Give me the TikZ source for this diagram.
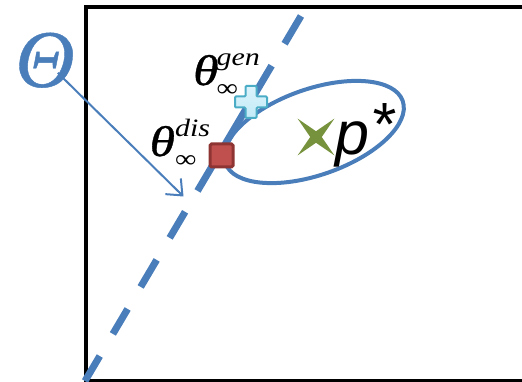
\documentclass[tikz,border=0pt]{standalone}
\usepackage{fontspec}
\setmainfont{Liberation Serif}
\newfontfamily\lblfont[FakeStretch=1.2]{Liberation Serif}
\newfontfamily\thfont[FakeStretch=1.2,FakeBold=0.8]{Liberation Serif}
\newfontfamily\bigthfont[FakeBold=0.5]{Liberation Serif}
\newfontfamily\sansfam{Liberation Sans}
\usetikzlibrary{arrows.meta,shapes.geometric}
\definecolor{lineblue}{HTML}{4A7EBB}
\definecolor{sqfill}{HTML}{C0504D}
\definecolor{sqborder}{HTML}{8E3533}
\definecolor{plusfill}{HTML}{C2EBF8}
\definecolor{plusborder}{HTML}{4BACC6}
\definecolor{starolive}{HTML}{76923C}
\newcommand{\thlabel}[2]{{\fontsize{43}{43}\selectfont\thfont\itshape θ}\kern#2\rlap{\raisebox{19pt}{\fontsize{25}{25}\selectfont\lblfont\itshape #1}}\raisebox{-12pt}{\fontsize{25}{25}\selectfont\lblfont ∞}}
\tikzset{
  frame/.style={draw=black, line width=4pt},
  thetaline/.style={draw=lineblue, line width=7pt,
    dash pattern=on 29pt off 25.7pt on 29pt off 25.6pt on 31.4pt off 25.6pt on 30.3pt off 24.3pt on 145.5pt off 25.5pt on 40pt},
  region/.style={draw=lineblue, line width=4pt},
  pointer/.style={draw=lineblue, line width=2pt, -{Straight Barb[length=13pt,width=22pt]}},
  dismark/.style={draw=sqborder, fill=sqfill, line width=3pt, minimum size=23pt, inner sep=0pt, rounded corners=1.5pt},
  genmark/.style={draw=plusborder, line width=2pt, top color=plusfill!60!white, bottom color=plusfill, rounded corners=1pt},
  starmark/.style={star, star points=4, star point ratio=4.5, minimum size=52pt, inner sep=0pt, fill=starolive, shape border rotate=45},
  lbl/.style={anchor=base west, inner sep=0pt}
}
\begin{document}
\begin{tikzpicture}[x=1pt,y=-1pt]
\useasboundingbox (0,0) rectangle (522,382);
% frame
\draw[frame] (86,7.5) rectangle (523.5,380.5);
% ellipse region
\draw[region, rotate around={19.3:(314,132)}] (314,132) ellipse [x radius=94, y radius=43];
% dashed parameter line
\coordinate (lbot) at (85,381);
\coordinate (ltop) at (301,16);
\draw[thetaline] (lbot) -- (ltop);
% markers
\node[dismark] (dis) at (221.5,155.5) {};
\coordinate (gen) at (251,102);
\draw[genmark, shift={(gen)}] (-5.5,-16) -- (5.5,-16) -- (5.5,-5.5) -- (16,-5.5) -- (16,5.5) -- (5.5,5.5) -- (5.5,16) -- (-5.5,16) -- (-5.5,5.5) -- (-16,5.5) -- (-16,-5.5) -- (-5.5,-5.5) -- cycle;
\node[starmark] (pstar) at (316,137) {};
% labels
\node[lbl] (lgen) at (193,85) {\thlabel{gen}{-2pt}};
\node[lbl] (ldis) at (149.5,156) {\thlabel{dis}{0pt}};
\node[lbl, font=\sansfam\itshape\fontsize{61}{61}\selectfont] (pl) at (335,155) {p\kern1pt\raisebox{9pt}{*}};
% Theta
\node[anchor=base, inner sep=0pt, text=lineblue, font=\bigthfont\fontsize{82}{82}\selectfont\itshape] (Th) at (45,87) {Θ};
\coordinate (atip) at (183.5,196.5);
\draw[pointer, shorten <=18pt] (Th.center) -- (atip);
\end{tikzpicture}
\end{document}
